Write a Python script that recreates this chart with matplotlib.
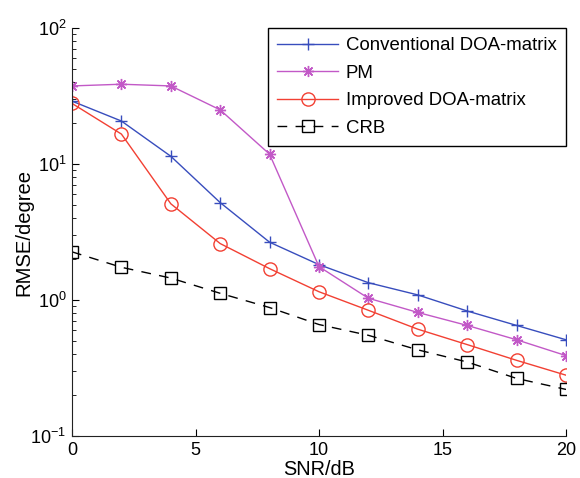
import matplotlib
matplotlib.use("Agg")
import matplotlib.pyplot as plt
from matplotlib.ticker import LogLocator, NullFormatter, FixedLocator

plt.rcParams['font.family'] = ['Liberation Sans', 'DejaVu Sans']
plt.rcParams['mathtext.default'] = 'regular'

snr = [0, 2, 4, 6, 8, 10, 12, 14, 16, 18, 20]
conventional = [29.0, 20.7, 11.4, 5.2, 2.66, 1.82, 1.34, 1.09, 0.83, 0.65, 0.51]
pm = [37.5, 38.6, 37.5, 25.0, 11.8, 1.76, 1.03, 0.81, 0.65, 0.51, 0.39]
improved = [27.9, 16.6, 5.1, 2.6, 1.70, 1.15, 0.84, 0.61, 0.47, 0.36, 0.28]
crb = [2.26, 1.74, 1.45, 1.12, 0.88, 0.66, 0.55, 0.43, 0.35, 0.265, 0.22]

labels = ['Conventional DOA-matrix', 'PM', 'Improved DOA-matrix', 'CRB']

fig = plt.figure(figsize=(5.8, 4.78), dpi=100)
ax = fig.add_axes([72/580, 42/478, (566-72)/580, (436-28)/478])

blue = (0.22, 0.30, 0.74)
mag = (0.76, 0.35, 0.78)
red = (0.95, 0.25, 0.20)

ax.plot(snr, conventional, color=blue, lw=1.0, marker='+', ms=9, mew=1.0, label=labels[0])
ax.plot(snr, pm, color=mag, lw=1.0, marker=(8, 2, 0), ms=8, mew=1.0, label=labels[1])
ax.plot(snr, improved, color=red, lw=1.0, marker='o', ms=9.5, mew=1.0, mfc='none', label=labels[2])
ax.plot(snr, crb, color='black', lw=1.0, ls=(0, (7, 6)), marker='s', ms=9, mew=1.0, mfc='none', label=labels[3])

ax.set_yscale('log')
ax.set_xlim(0, 20)
ax.set_ylim(0.1, 100)
ax.xaxis.set_major_locator(FixedLocator([0, 5, 10, 15, 20]))
ax.yaxis.set_major_locator(LogLocator(base=10, numticks=10))
ax.yaxis.set_minor_locator(LogLocator(base=10, subs=range(2, 10), numticks=10))
ax.yaxis.set_minor_formatter(NullFormatter())

for s in ['top', 'right']:
    ax.spines[s].set_visible(False)
for s in ['left', 'bottom']:
    ax.spines[s].set_linewidth(0.8)
    ax.spines[s].set_color('#222222')

ax.tick_params(which='major', direction='in', length=5, width=0.8, labelsize=13, pad=4)
ax.tick_params(which='minor', direction='in', length=3, width=0.6)

ax.set_xlabel('SNR/dB', fontsize=14.3)
ax.xaxis.set_label_coords(0.5, -0.059)
ax.set_ylabel('RMSE/degree', fontsize=14.6)
ax.yaxis.set_label_coords(-0.079, 0.5)

leg = ax.legend(loc='upper right', bbox_to_anchor=(1.0, 1.0), fontsize=13.4, frameon=True,
                fancybox=False, edgecolor='black', framealpha=1, handlelength=3.3,
                handletextpad=0.4, borderpad=0.5, labelspacing=0.56, borderaxespad=0.0)
leg.get_frame().set_linewidth(1.0)

fig.savefig('out.png', dpi=100)
